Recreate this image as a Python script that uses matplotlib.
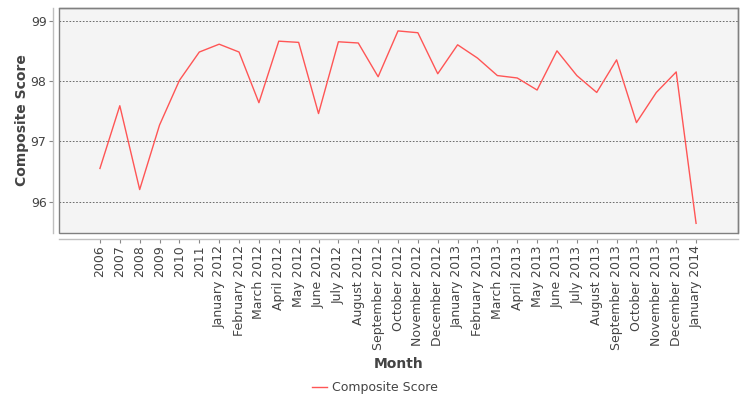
import matplotlib
matplotlib.use("Agg")
import matplotlib.pyplot as plt
from matplotlib.patches import Rectangle

categories = ["2006", "2007", "2008", "2009", "2010", "2011",
              "January 2012", "February 2012", "March 2012", "April 2012", "May 2012", "June 2012",
              "July 2012", "August 2012", "September 2012", "October 2012", "November 2012", "December 2012",
              "January 2013", "February 2013", "March 2013", "April 2013", "May 2013", "June 2013",
              "July 2013", "August 2013", "September 2013", "October 2013", "November 2013", "December 2013",
              "January 2014"]
composite_score = [96.55, 97.59, 96.20, 97.27, 98.01, 98.48,
                   98.61, 98.48, 97.64, 98.66, 98.64, 97.46,
                   98.65, 98.63, 98.07, 98.83, 98.80, 98.12,
                   98.60, 98.38, 98.09, 98.05, 97.85, 98.50,
                   98.09, 97.81, 98.35, 97.31, 97.81, 98.15,
                   95.64]
y_ticks = [96, 97, 98, 99]

plt.rcParams['font.family'] = ['DejaVu Sans']
fig = plt.figure(figsize=(7.5, 4), dpi=100)
W, H = 750, 400
l, r, t, b = 59, 738, 8, 233
ax = fig.add_axes([l / W, 1 - b / H, (r - l) / W, (b - t) / H])
ax.set_facecolor('#f4f4f4')

x = list(range(len(categories)))
line, = ax.plot(x, composite_score, color='#ff5555', lw=1.0, label='Composite Score')

ax.set_xlim(-2.06, len(categories) - 1 + 2.11)
ax.set_ylim(95.48, 99.21)
ax.set_yticks(y_ticks)
ax.set_yticklabels([str(v) for v in y_ticks])
ax.set_xticks(x)
ax.set_xticklabels(categories)

ax.grid(axis='y', color='#555555', linestyle=(0, (2, 2)), lw=0.6)
ax.set_axisbelow(True)

for s in ['top', 'right']:
    ax.spines[s].set_color('#808080')
    ax.spines[s].set_linewidth(1.0)
for s in ['left', 'bottom']:
    ax.spines[s].set_position(('outward', 4))
    ax.spines[s].set_color('#c0c0c0')
    ax.spines[s].set_linewidth(1.0)
ax.add_patch(Rectangle((0, 0), 1, 1, transform=ax.transAxes, fill=False,
                       edgecolor='#808080', lw=1.0, clip_on=False, zorder=5))

ax.tick_params(axis='both', colors='#888888', labelcolor='#444444', labelsize=9,
               length=3, width=0.8, pad=2)
ax.tick_params(axis='x', labelrotation=90)

ax.set_ylabel('Composite Score', fontsize=10, fontweight='bold', color='#444444')
ax.yaxis.set_label_coords((29 - l) / (r - l), 0.5)
ax.set_xlabel('Month', fontsize=10, fontweight='bold', color='#444444', labelpad=5)

fig.legend(handles=[line], loc='center', bbox_to_anchor=(0.5, 1 - 388 / H), frameon=False,
           fontsize=9, labelcolor='#444444', handlelength=1.2, handletextpad=0.4)

fig.savefig('out.png', dpi=100)
